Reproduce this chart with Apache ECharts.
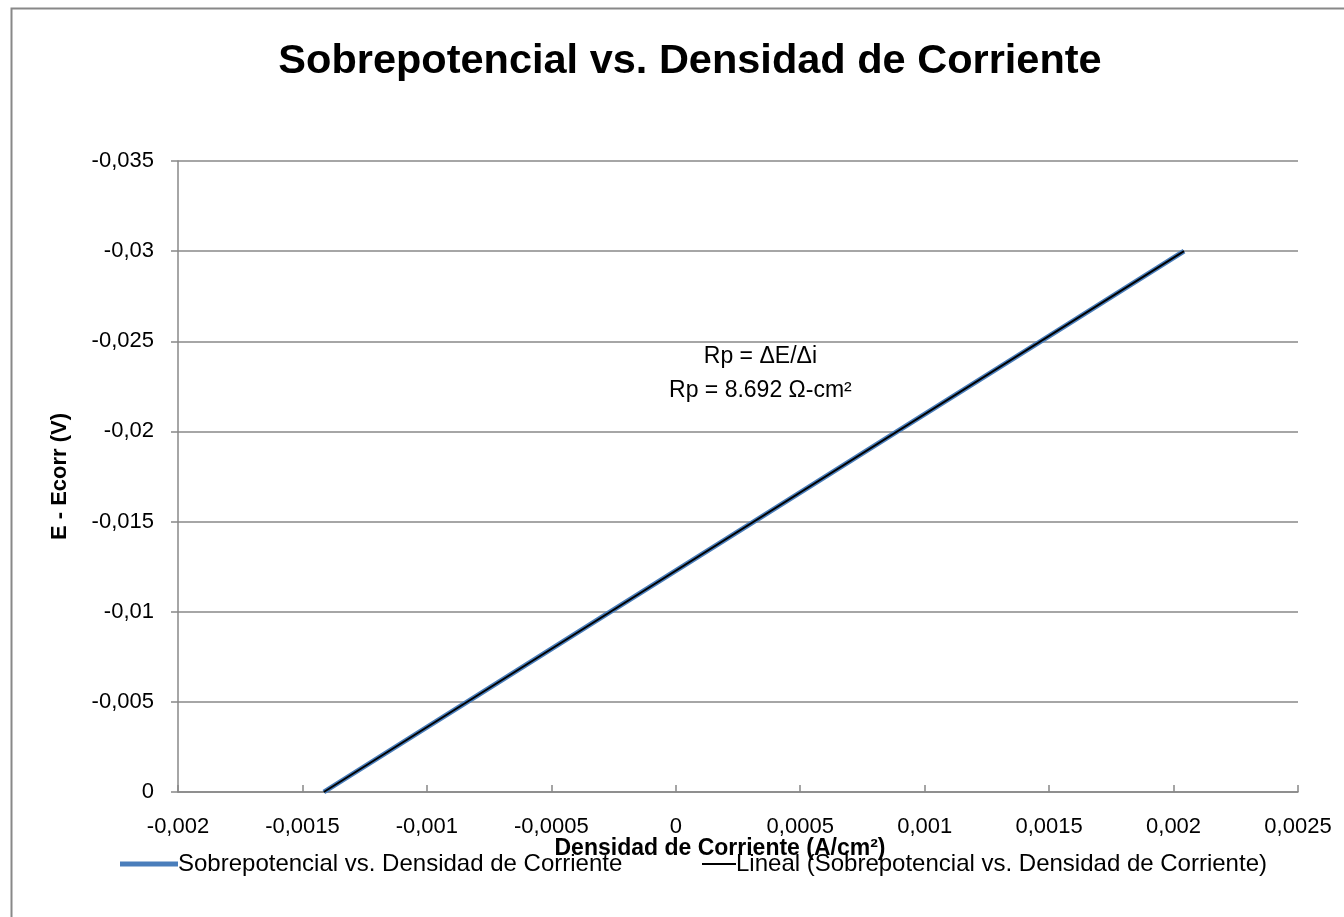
<!DOCTYPE html>
<html>
<head>
<meta charset="utf-8">
<script src="https://cdn.jsdelivr.net/npm/echarts@6/dist/echarts.min.js"></script>
<style>
html,body{margin:0;padding:0;background:#fff;}
#chart{width:1344px;height:917px;}
</style>
</head>
<body>
<div id="chart"></div>
<script>
// Data
var seriesX = [-0.001414, -0.000838, -0.000262, 0.000314, 0.00089, 0.001466, 0.002042];
var seriesY = [0, -0.005, -0.01, -0.015, -0.02, -0.025, -0.03];
var trendX = [-0.001414, 0.002042];
var trendY = [0, -0.03];
var seriesName = 'Sobrepotencial vs. Densidad de Corriente';
var trendName = 'Lineal (Sobrepotencial vs. Densidad de Corriente)';
var annotationLines = ['Rp = ΔE/Δi', 'Rp = 8.692 Ω-cm²'];
var annotationAt = [0.00034, -0.0232];
var xMin = -0.002, xMax = 0.0025, xStep = 0.0005;
var yMin = -0.035, yMax = 0, yStep = 0.005;

var FONT = '"Liberation Sans", Arial, sans-serif';
function fmt(v) { return String(Number(v.toFixed(6))).replace('.', ','); }
function pairs(xs, ys) { return xs.map(function (x, i) { return [x, ys[i]]; }); }

var chart = echarts.init(document.getElementById('chart'));
chart.setOption({
  animation: false,
  backgroundColor: '#fff',
  title: {
    text: seriesName,
    left: 685, top: 36, textAlign: 'center',
    textStyle: { fontFamily: FONT, fontSize: 41.5, fontWeight: 'bold', color: '#000' }
  },
  grid: { left: 178, right: 46, top: 161, bottom: 125, containLabel: false },
  xAxis: {
    type: 'value', min: xMin, max: xMax, interval: xStep,
    name: 'Densidad de Corriente (A/cm²)', nameLocation: 'middle', nameGap: 45,
    nameMoveOverlap: false,
    nameTextStyle: { fontFamily: FONT, fontSize: 23, fontWeight: 'bold', color: '#000', padding: [0, 36, 0, 0] },
    axisLine: { show: true, onZero: false, lineStyle: { color: '#888', width: 1.5 } },
    axisTick: { show: true, inside: true, length: 7, lineStyle: { color: '#888', width: 1.5 } },
    axisLabel: { margin: 24, fontFamily: FONT, fontSize: 22, color: '#000', formatter: fmt },
    splitLine: { show: false }
  },
  yAxis: {
    type: 'value', min: yMin, max: yMax, interval: yStep, inverse: true,
    name: 'E - Ecorr (V)', nameLocation: 'middle', nameGap: 107, nameRotate: 90,
    nameMoveOverlap: false,
    nameTextStyle: { fontFamily: FONT, fontSize: 22, fontWeight: 'bold', color: '#000' },
    axisLine: { show: true, onZero: false, lineStyle: { color: '#888', width: 1.5 } },
    axisTick: { show: true, inside: false, length: 7, lineStyle: { color: '#888', width: 1.5 } },
    axisLabel: { margin: 24, fontFamily: FONT, fontSize: 22, color: '#000', formatter: fmt },
    splitLine: { show: true, lineStyle: { color: '#888', width: 1.5 } }
  },
  legend: [
    {
      data: [seriesName], left: 115, top: 847, icon: 'rect',
      itemWidth: 58, itemHeight: 5, itemGap: 0,
      textStyle: { fontFamily: FONT, fontSize: 24, color: '#000', padding: [0, 0, 0, -5] }
    },
    {
      data: [trendName], left: 697, top: 847, icon: 'rect',
      itemWidth: 34, itemHeight: 2, itemGap: 0,
      textStyle: { fontFamily: FONT, fontSize: 24, color: '#000', padding: [0, 0, 0, -5] }
    }
  ],
  series: [
    {
      name: seriesName, type: 'line', data: pairs(seriesX, seriesY),
      showSymbol: false, symbol: 'none',
      lineStyle: { color: '#4a7ebb', width: 5 }, itemStyle: { color: '#4a7ebb' }
    },
    {
      name: trendName, type: 'line', data: pairs(trendX, trendY),
      showSymbol: false, symbol: 'none',
      lineStyle: { color: '#000', width: 2 }, itemStyle: { color: '#000' }
    }
  ]
});

var p = chart.convertToPixel({ gridIndex: 0 }, annotationAt);
chart.setOption({
  graphic: [
    {
      type: 'rect', silent: true,
      shape: { x: 11.5, y: 8.5, width: 1500, height: 1100 },
      style: { fill: 'none', stroke: '#888', lineWidth: 2 }
    },
    {
      type: 'text', x: p[0], y: p[1], silent: true,
      style: {
        text: annotationLines.join('\n'), fontFamily: FONT, fontSize: 23,
        lineHeight: 34, fill: '#000', align: 'center', verticalAlign: 'middle'
      }
    }
  ]
});
</script>
</body>
</html>
